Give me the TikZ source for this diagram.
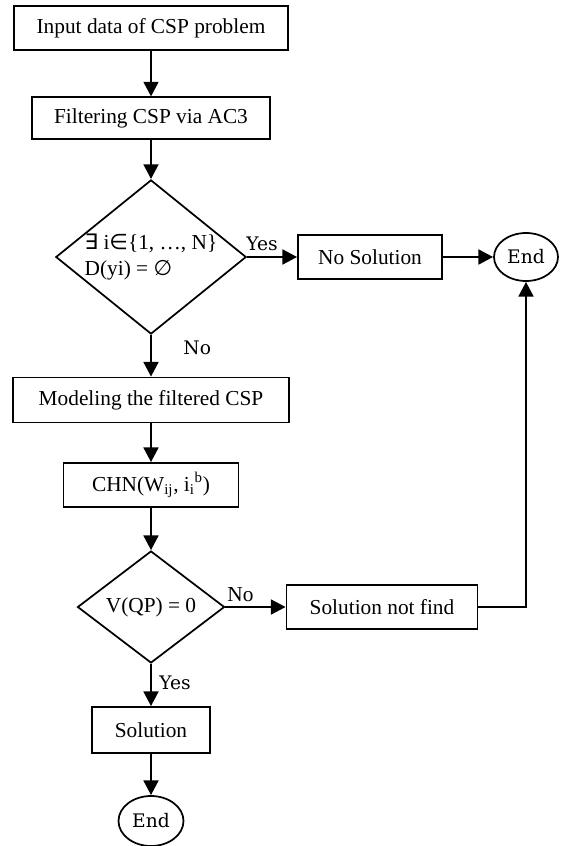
\documentclass[tikz,border=0pt]{standalone}
\usepackage{fontspec}
\setmainfont{Liberation Serif}
\newfontfamily\lblfont{DejaVu Serif}
\newfontfamily\symfont{DejaVu Sans}
\usetikzlibrary{shapes,arrows.meta}

\begin{document}
\begin{tikzpicture}[x=0.75pt,y=-0.75pt,
box/.style={shape=rectangle,draw,line width=1.3pt,inner sep=0pt,font=\fontsize{16}{20}\selectfont},
dec/.style={shape=diamond,draw,line width=1.3pt,inner sep=0pt,font=\fontsize{16}{20}\selectfont},
term/.style={shape=ellipse,draw,line width=1.3pt,inner sep=0pt,font=\lblfont\fontsize{14}{17}\selectfont},
lbl/.style={font=\lblfont\fontsize{14}{17}\selectfont},
flow/.style={line width=2pt,-{Triangle[length=11pt,width=11pt]}}]
\useasboundingbox (0,0) rectangle (561,846);
\node(0) at (151,28) [box,minimum width=206pt,minimum height=33pt] {Input data of CSP problem};
\node(1) at (151,118) [box,minimum width=178.5pt,minimum height=31pt] {Filtering CSP via AC3};
\node(2) at (151,257) [dec,aspect=1.235,minimum width=141.75pt,minimum height=114.75pt,align=left] {{\symfont ∃} i{\symfont ∈}\{1, …, N\}\\D(yi) = {\symfont ∅}};
\node(3) at (370,257) [box,minimum width=108pt,minimum height=33pt] {No Solution};
\node(4) at (526,257) [term,minimum width=48pt,minimum height=36pt] {End};
\node(5) at (151,400) [box,minimum width=207pt,minimum height=33.75pt] {Modeling the filtered CSP};
\node(6) at (151,485) [box,minimum width=131.25pt,minimum height=33pt] {CHN(W\textsubscript{ij}, i\textsubscript{i}\textsuperscript{b})};
\node(7) at (151,607) [dec,aspect=1.31,minimum width=110.25pt,minimum height=84pt] {V(QP) = 0};
\node(8) at (382,607) [box,minimum width=143.25pt,minimum height=33pt] {Solution not find};
\node(9) at (151,730) [box,minimum width=88.5pt,minimum height=34.5pt] {Solution};
\node(10) at (151,821) [term,minimum width=48.75pt,minimum height=37.5pt] {End};
\path [flow]
(0) edge (1)
(1) edge (2)
(2) edge node [lbl,above,pos=0.3] {Yes} (3)
(3) edge (4)
(2) edge node [lbl,anchor=west,xshift=20pt,pos=0.3] {No} (5)
(5) edge (6)
(6) edge (7)
(7) edge node [above,pos=0.25,font=\fontsize{16}{20}\selectfont] {No} (8)
(7) edge node [lbl,right,xshift=2pt,pos=0.44] {Yes} (9)
(9) edge (10);
\draw [flow] (8) -| (4);
\end{tikzpicture}
\end{document}
